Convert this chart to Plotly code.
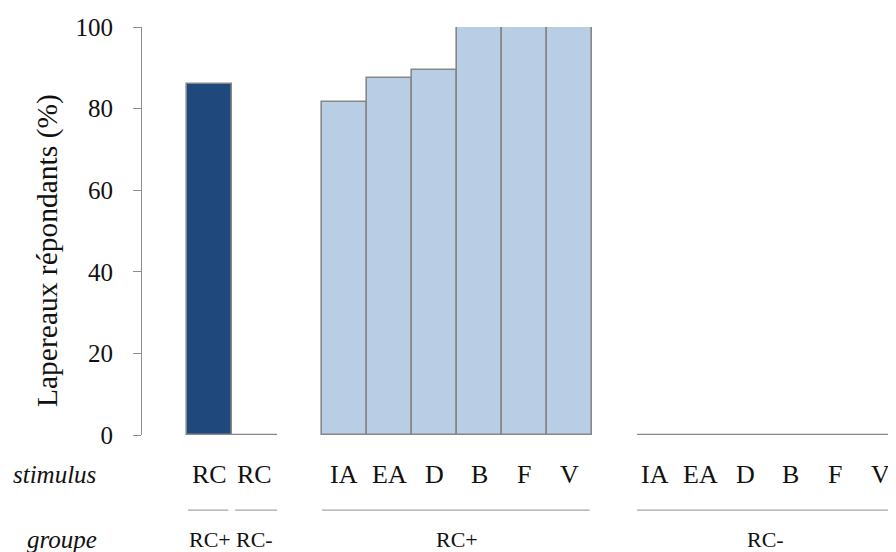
import plotly.graph_objects as go

# ---- data ----
stimulus = ["RC", "RC", "IA", "EA", "D", "B", "F", "V", "IA", "EA", "D", "B", "F", "V"]
groupe = ["RC+", "RC-", "RC+", "RC+", "RC+", "RC+", "RC+", "RC+", "RC-", "RC-", "RC-", "RC-", "RC-", "RC-"]
values = [86, 0, 81.5, 87.5, 89.5, 100, 100, 100, 0, 0, 0, 0, 0, 0]
positions = [1, 2, 4, 5, 6, 7, 8, 9, 11, 12, 13, 14, 15, 16]
group_labels = ["RC+", "RC-", "RC+", "RC-"]
group_spans = [(1, 1), (2, 2), (4, 9), (11, 16)]
y_ticks = [0, 20, 40, 60, 80, 100]

DARK = "#1F497D"
LIGHT = "#B9CDE5"
OUTLINE = "#878787"
FONT = "Liberation Serif"
TXT = "#111111"

# page body has an 8px margin; figure is laid out to compensate
W, H = 888, 544
L, T, B = 134, 19, 117
PW = W - L

colors = [DARK if i < 2 else LIGHT for i in range(len(values))]

fig = go.Figure()

nz = [i for i, v in enumerate(values) if v != 0]
fig.add_trace(go.Bar(
    x=[positions[i] for i in nz], y=[values[i] for i in nz],
    width=1.0, marker=dict(color=[colors[i] for i in nz], line=dict(color=OUTLINE, width=1.6)),
    showlegend=False, hoverinfo="skip",
))

# zero-valued bars appear as flat outlines
zx, zy = [], []
for i, v in enumerate(values):
    if v == 0:
        zx += [positions[i] - 0.5, positions[i] + 0.5, None]
        zy += [v, v, None]
fig.add_trace(go.Scatter(x=zx, y=zy, mode="lines", line=dict(color=OUTLINE, width=2.6),
                         showlegend=False, hoverinfo="skip", cliponaxis=False))

annotations = []
shapes = []
for p, s, g in zip(positions, stimulus, range(len(stimulus))):
    annotations.append(dict(x=p, y=-0.098, xref="x", yref="paper", text=s, showarrow=False,
                            xshift=-4 if p >= 11 else 0,
                            font=dict(family=FONT, size=26, color=TXT), xanchor="center", yanchor="middle"))
for (a, b), lab in zip(group_spans, group_labels):
    single = a == b
    x0 = a - 0.5 + (0.02 if single else 0.0)
    x1 = b + 0.5 - (0.08 if single else 0.05)
    if a == 2:
        x0, x1 = a - 0.43, b + 0.5
    shapes.append(dict(type="line", xref="x", yref="paper", x0=x0, x1=x1, y0=-0.184, y1=-0.184,
                       line=dict(color="#A6A6A6", width=1.2)))
    cx = (a + b) / 2 if b < 16 else 13.35
    annotations.append(dict(x=cx, y=-0.257, xref="x", yref="paper", text=lab, showarrow=False,
                            font=dict(family=FONT, size=22, color=TXT), xanchor="center", yanchor="middle"))
annotations.append(dict(x=(90 - L) / PW, y=-0.098, xref="paper", yref="paper", text="<i>stimulus</i>",
                        showarrow=False, font=dict(family=FONT, size=25, color=TXT), xanchor="right", yanchor="middle"))
annotations.append(dict(x=(91 - L) / PW, y=-0.257, xref="paper", yref="paper", text="<i>groupe</i>",
                        showarrow=False, font=dict(family=FONT, size=25, color=TXT), xanchor="right", yanchor="middle"))
annotations.append(dict(x=(40 - L) / PW, y=0.451, xref="paper", yref="paper", text="Lapereaux répondants (%)",
                        showarrow=False, textangle=-90, font=dict(family=FONT, size=29.5, color=TXT),
                        xanchor="center", yanchor="middle"))

fig.update_layout(
    width=W, height=H,
    margin=dict(l=L, r=0, t=T, b=B),
    paper_bgcolor="white", plot_bgcolor="white",
    bargap=0,
    xaxis=dict(range=[-0.5, 16.256], showticklabels=False, showgrid=False, zeroline=False,
               showline=False, ticks=""),
    yaxis=dict(range=[0, 100], tickvals=y_ticks, showgrid=False, zeroline=False, showline=True,
               linecolor="#8C8C8C", linewidth=1, ticks="outside", ticklen=8, tickcolor="#8C8C8C",
               tickfont=dict(family=FONT, size=25, color=TXT), ticklabelstandoff=15),
    annotations=annotations, shapes=shapes,
)

fig.write_html("out.html")
